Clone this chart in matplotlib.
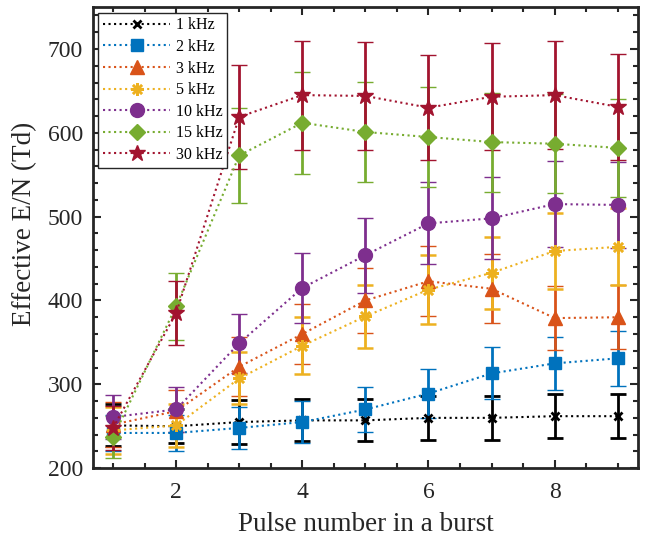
import matplotlib
matplotlib.use("Agg")
import matplotlib.pyplot as plt
from matplotlib.ticker import MultipleLocator

plt.rcParams['font.family'] = ['Liberation Serif', 'DejaVu Serif']

pulses = [1, 2, 3, 4, 5, 6, 7, 8, 9]
labels = ['1 kHz', '2 kHz', '3 kHz', '5 kHz', '10 kHz', '15 kHz', '30 kHz']

en_1k = [251, 250, 255, 257, 257, 260, 260, 262, 262]
en_2k = [242, 242, 248, 255, 270, 289, 313, 325, 331]
en_3k = [252, 268, 321, 360, 400, 423, 414, 379, 380]
en_5k = [245, 251, 307, 346, 381, 413, 433, 459, 464]
en_10k = [261, 270, 349, 415, 454, 492, 498, 515, 514]
en_15k = [237, 393, 573, 612, 601, 595, 589, 587, 582]
en_30k = [248, 385, 619, 645, 644, 630, 643, 645, 631]

err_1k = [25, 20, 26, 25, 25, 26, 26, 26, 26]
err_2k = [22, 22, 25, 25, 27, 29, 31, 32, 33]
err_3k = [27, 25, 35, 36, 39, 42, 41, 38, 38]
err_5k = [28, 26, 31, 34, 38, 41, 43, 45, 46]
err_10k = [26, 27, 35, 42, 45, 49, 49, 51, 51]
err_15k = [25, 40, 57, 61, 60, 60, 59, 59, 58]
err_30k = [26, 38, 62, 65, 64, 63, 64, 64, 63]

series = [en_1k, en_2k, en_3k, en_5k, en_10k, en_15k, en_30k]
errors = [err_1k, err_2k, err_3k, err_5k, err_10k, err_15k, err_30k]
colors = ['#000000', '#0072BD', '#D95319', '#EDB120', '#7E2F8E', '#77AC30', '#A2142F']
markers = ['x', 's', '^', (8, 2, 0), 'o', 'D', '*']
msizes = [6, 8, 10, 9, 10, 8, 12]
mews = [2, 1, 1, 1.8, 1, 1, 1]

fig = plt.figure(figsize=(6.45, 5.45), dpi=100)
ax = fig.add_axes([0.144, 0.141, 0.845, 0.846])

handles = []
for y, e, c, m, ms, mw, lab in zip(series, errors, colors, markers, msizes, mews, labels):
    cont = ax.errorbar(pulses, y, yerr=e, color=c, ls=':', lw=1.5, marker=m,
                       ms=ms, mew=mw, mfc=c, mec=c,
                       elinewidth=2, capsize=5.5, capthick=2, label=lab)
    handles.append(cont[0])

ax.set_xlim(0.68, 9.32)
ax.set_ylim(200, 750)
ax.xaxis.set_major_locator(MultipleLocator(2))
ax.xaxis.set_minor_locator(MultipleLocator(0.5))
ax.yaxis.set_major_locator(MultipleLocator(100))
ax.yaxis.set_minor_locator(MultipleLocator(20))
ax.tick_params(which='both', direction='in', top=True, right=True,
               colors='#262626', width=1.5)
ax.tick_params(which='major', length=6, labelsize=17)
ax.tick_params(which='minor', length=3.5)
ax.tick_params(axis='x', which='major', pad=10)
ax.tick_params(axis='y', which='major', pad=7)
for s in ax.spines.values():
    s.set_linewidth(2)
    s.set_color('#262626')

ax.set_xlabel('Pulse number in a burst', fontsize=19.5, color='#262626')
ax.set_ylabel('Effective E/N (Td)', fontsize=19.5, color='#262626')
ax.xaxis.set_label_coords(0.5, -0.095)
ax.yaxis.set_label_coords(-0.102, 0.53)

leg = ax.legend(handles, labels, loc='upper left', fontsize=11.5, frameon=True,
                fancybox=False, edgecolor='#262626', handlelength=4.2,
                handletextpad=0.35, borderpad=0.3, labelspacing=0.35,
                borderaxespad=0.35, framealpha=1)
leg.get_frame().set_linewidth(1)

fig.savefig('out.png', dpi=100)
